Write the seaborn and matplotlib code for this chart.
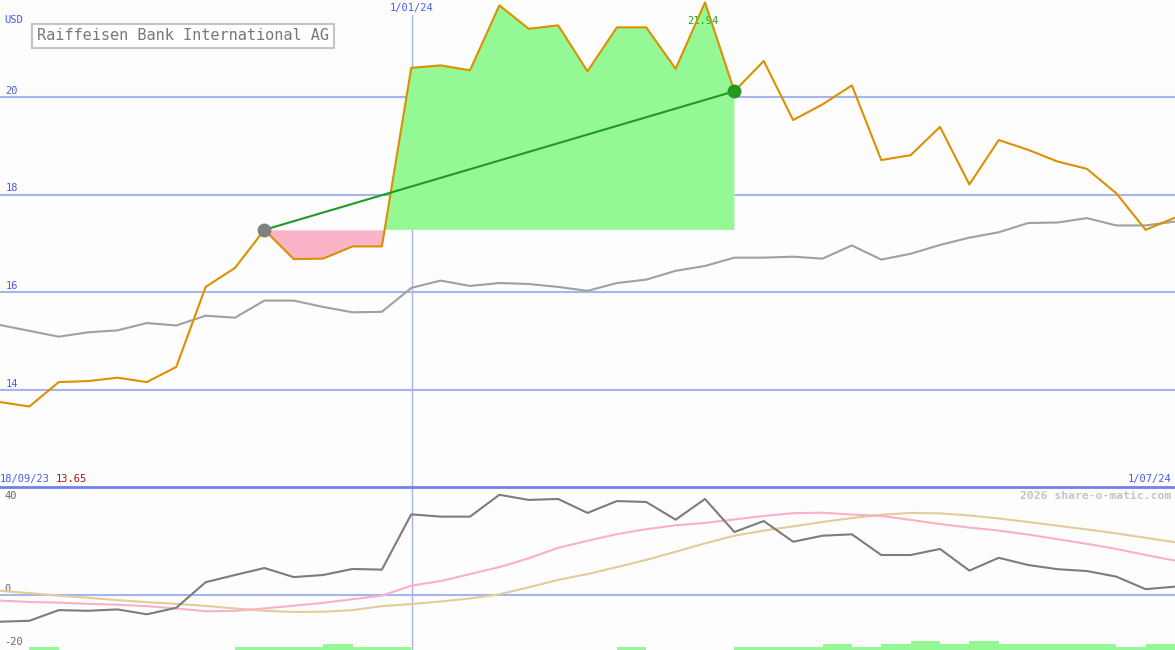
import numpy as np
import matplotlib
matplotlib.use("Agg")
import matplotlib.pyplot as plt
import seaborn as sns

# weekly closes, 18/09/23 .. 1/07/24
price = [13.75, 13.66, 14.16, 14.18, 14.25, 14.16, 14.47, 16.11, 16.50, 17.28,
         16.68, 16.69, 16.94, 16.94, 20.60, 20.65, 20.55, 21.88, 21.40, 21.47,
         20.53, 21.43, 21.43, 20.58, 21.94, 20.12, 20.74, 19.53, 19.85, 20.24,
         18.71, 18.81, 19.39, 18.21, 19.12, 18.92, 18.68, 18.53, 18.03, 17.28,
         17.53]
# benchmark (rescaled)
bench = [15.33, 15.21, 15.09, 15.18, 15.22, 15.37, 15.32, 15.52, 15.48, 15.83,
         15.83, 15.70, 15.59, 15.60, 16.09, 16.24, 16.13, 16.19, 16.17, 16.11,
         16.03, 16.19, 16.26, 16.44, 16.54, 16.71, 16.71, 16.73, 16.69, 16.96,
         16.67, 16.79, 16.97, 17.12, 17.23, 17.42, 17.43, 17.52, 17.37, 17.37,
         17.45]
# lower panel
momentum = [-11.5, -11.1, -6.5, -6.8, -6.2, -8.3, -5.5, 5.5, 8.6, 11.6,
            7.7, 8.6, 11.2, 10.9, 34.7, 33.7, 33.7, 43.1, 40.9, 41.3,
            35.3, 40.4, 40.0, 32.4, 41.3, 27.1, 31.8, 22.9, 25.5, 26.1,
            17.2, 17.2, 19.8, 10.5, 16.0, 12.9, 11.1, 10.3, 7.9, 2.5,
            3.6]
fast_avg = [-2.4, -3.0, -3.3, -3.8, -4.2, -4.8, -5.8, -7.0, -6.8, -5.8,
            -4.6, -3.4, -1.8, -0.3, 4.0, 6.0, 9.0, 12.0, 15.8, 20.3,
            23.3, 26.2, 28.3, 30.0, 31.0, 32.5, 34.0, 35.2, 35.4, 34.6,
            34.0, 32.3, 30.5, 29.0, 27.7, 26.0, 24.0, 22.0, 19.8, 17.2,
            14.8]
slow_avg = [1.8, 0.8, -0.3, -1.2, -2.2, -3.1, -3.8, -4.7, -5.8, -6.8,
            -7.3, -7.2, -6.5, -4.8, -3.9, -2.8, -1.5, 0.3, 3.3, 6.5,
            9.0, 12.0, 15.1, 18.6, 22.2, 25.5, 27.7, 29.5, 31.4, 33.1,
            34.5, 35.3, 35.1, 34.2, 32.9, 31.4, 29.8, 28.2, 26.5, 24.6,
            22.7]
volume_level = [0, 1, 0, 0, 0, 0, 0, 0, 1, 1,
                1, 2, 1, 1, 0, 0, 0, 0, 0, 0,
                0, 1, 0, 0, 0, 1, 1, 1, 2, 1,
                2, 3, 2, 3, 2, 2, 2, 2, 1, 2]

buy_idx, sell_idx = 9, 25
price_ticks = [14, 16, 18, 20]
osc_ticks = [0]
osc_labels = {40: 42.6, 0: 2.6, -20: -20.1}

x = np.arange(len(price))
bg = "#fcfdfc"
blue_txt = "#4a5af0"
grid_c = "#a8b4f0"
mono = "DejaVu Sans Mono"

sns.set_style("white", {"axes.facecolor": bg, "figure.facecolor": bg})

fig = plt.figure(figsize=(11.75, 6.5), dpi=100)
ax = fig.add_axes([0, 1 - 487 / 650, 1, 487 / 650])
ax2 = fig.add_axes([0, 0, 1, 1 - 487 / 650])

# ---- upper panel ----
ax.set_xlim(0, 40)
ax.set_ylim(12.01, 21.99)
for t in price_ticks:
    ax.axhline(t, color=grid_c, lw=1.5, zorder=1)
    ax.annotate(str(t), (0, t), xytext=(4, 1), textcoords="offset points",
                va="bottom", ha="left", fontsize=7.5, color=blue_txt, family=mono)
ax.axvline(14.02, ymin=0, ymax=1 - 15 / 487, color=grid_c, lw=1, zorder=1)

seg = np.array(price[buy_idx:sell_idx + 1])
xs = x[buy_idx:sell_idx + 1]
base = price[buy_idx]
ax.fill_between(xs, base, seg, where=seg >= base, interpolate=True,
                color="#94f894", lw=0, zorder=2)
ax.fill_between(xs, base, seg, where=seg <= base, interpolate=True,
                color="#f9b4c8", lw=0, zorder=2)

sns.lineplot(x=x, y=bench, ax=ax, color="#a0a0a0", lw=1.5, zorder=3)
sns.lineplot(x=x, y=price, ax=ax, color="#dc9000", lw=1.5, zorder=4)
ax.plot([buy_idx, sell_idx], [price[buy_idx], price[sell_idx]],
        color="#229a22", lw=1.5, zorder=5)
ax.plot(buy_idx, price[buy_idx], "o", color="#808080", ms=9, zorder=6)
ax.plot(sell_idx, price[sell_idx], "o", color="#229a22", ms=9, zorder=6)

ax.text(23.93, 21.55, f"{max(price):.2f}", color="#22a022", fontsize=7.5,
        ha="center", va="center", family=mono, zorder=3)
ax.text(14.02, 0.983, "1/01/24", transform=ax.get_xaxis_transform(),
        color=blue_txt, fontsize=7.5, ha="center", va="center", family=mono)
ax.text(0.004, 0.959, "USD", transform=ax.transAxes, color=blue_txt,
        fontsize=7.5, ha="left", va="center", family=mono)
ax.text(37 / 1175, 1 - 36 / 487, "Raiffeisen Bank International AG",
        transform=ax.transAxes, color="#777777", fontsize=11, ha="left",
        va="center", family=mono,
        bbox=dict(boxstyle="square,pad=0.3", fc="white", ec="#c4c4c4", lw=1.5))
ax.text(0.0, 8 / 487, "18/09/23", transform=ax.transAxes, color=blue_txt,
        fontsize=7.5, ha="left", va="center", family=mono)
ax.text(56 / 1175, 8 / 487, f"{min(price[:2]) - 0.01:.2f}", transform=ax.transAxes,
        color="#a01818", fontsize=7.5, ha="left", va="center", family=mono)
ax.text(0.997, 8 / 487, "1/07/24", transform=ax.transAxes, color=blue_txt,
        fontsize=7.5, ha="right", va="center", family=mono)

# ---- lower panel ----
ax2.set_xlim(0, 40)
ax2.set_ylim(-23.66, 46.45)
for t in osc_ticks:
    ax2.axhline(t, color=grid_c, lw=1.5, zorder=1)
for lbl, pos in osc_labels.items():
    ax2.text(0.15, pos, str(lbl), color="#666666", fontsize=7.5, ha="left",
             va="center", family=mono)
ax2.axvline(14.02, color=grid_c, lw=1, zorder=1)

ax2.bar(np.arange(len(volume_level)) + 0.5, np.array(volume_level) * 1.3,
        bottom=-23.66, width=1.0, color="#94f894", lw=0, zorder=2)
sns.lineplot(x=x, y=slow_avg, ax=ax2, color="#e2cc9a", lw=1.5, zorder=3)
sns.lineplot(x=x, y=fast_avg, ax=ax2, color="#fbb0c8", lw=1.5, zorder=3)
sns.lineplot(x=x, y=momentum, ax=ax2, color="#7c7c7c", lw=1.5, zorder=4)
ax2.text(0.997, 1 - 9 / 163, "2026 share-o-matic.com", transform=ax2.transAxes,
         color="#c4c4c4", fontsize=8.2, fontweight="bold", ha="right",
         va="center", family=mono)

for a in (ax, ax2):
    a.set_xticks([])
    a.set_yticks([])
    a.set_xlabel("")
    a.set_ylabel("")
    for s in a.spines.values():
        s.set_visible(False)
ax2.spines["top"].set_visible(True)
ax2.spines["top"].set_color("#7080f0")
ax2.spines["top"].set_linewidth(2)

fig.savefig("out.png", dpi=100, facecolor=bg)
